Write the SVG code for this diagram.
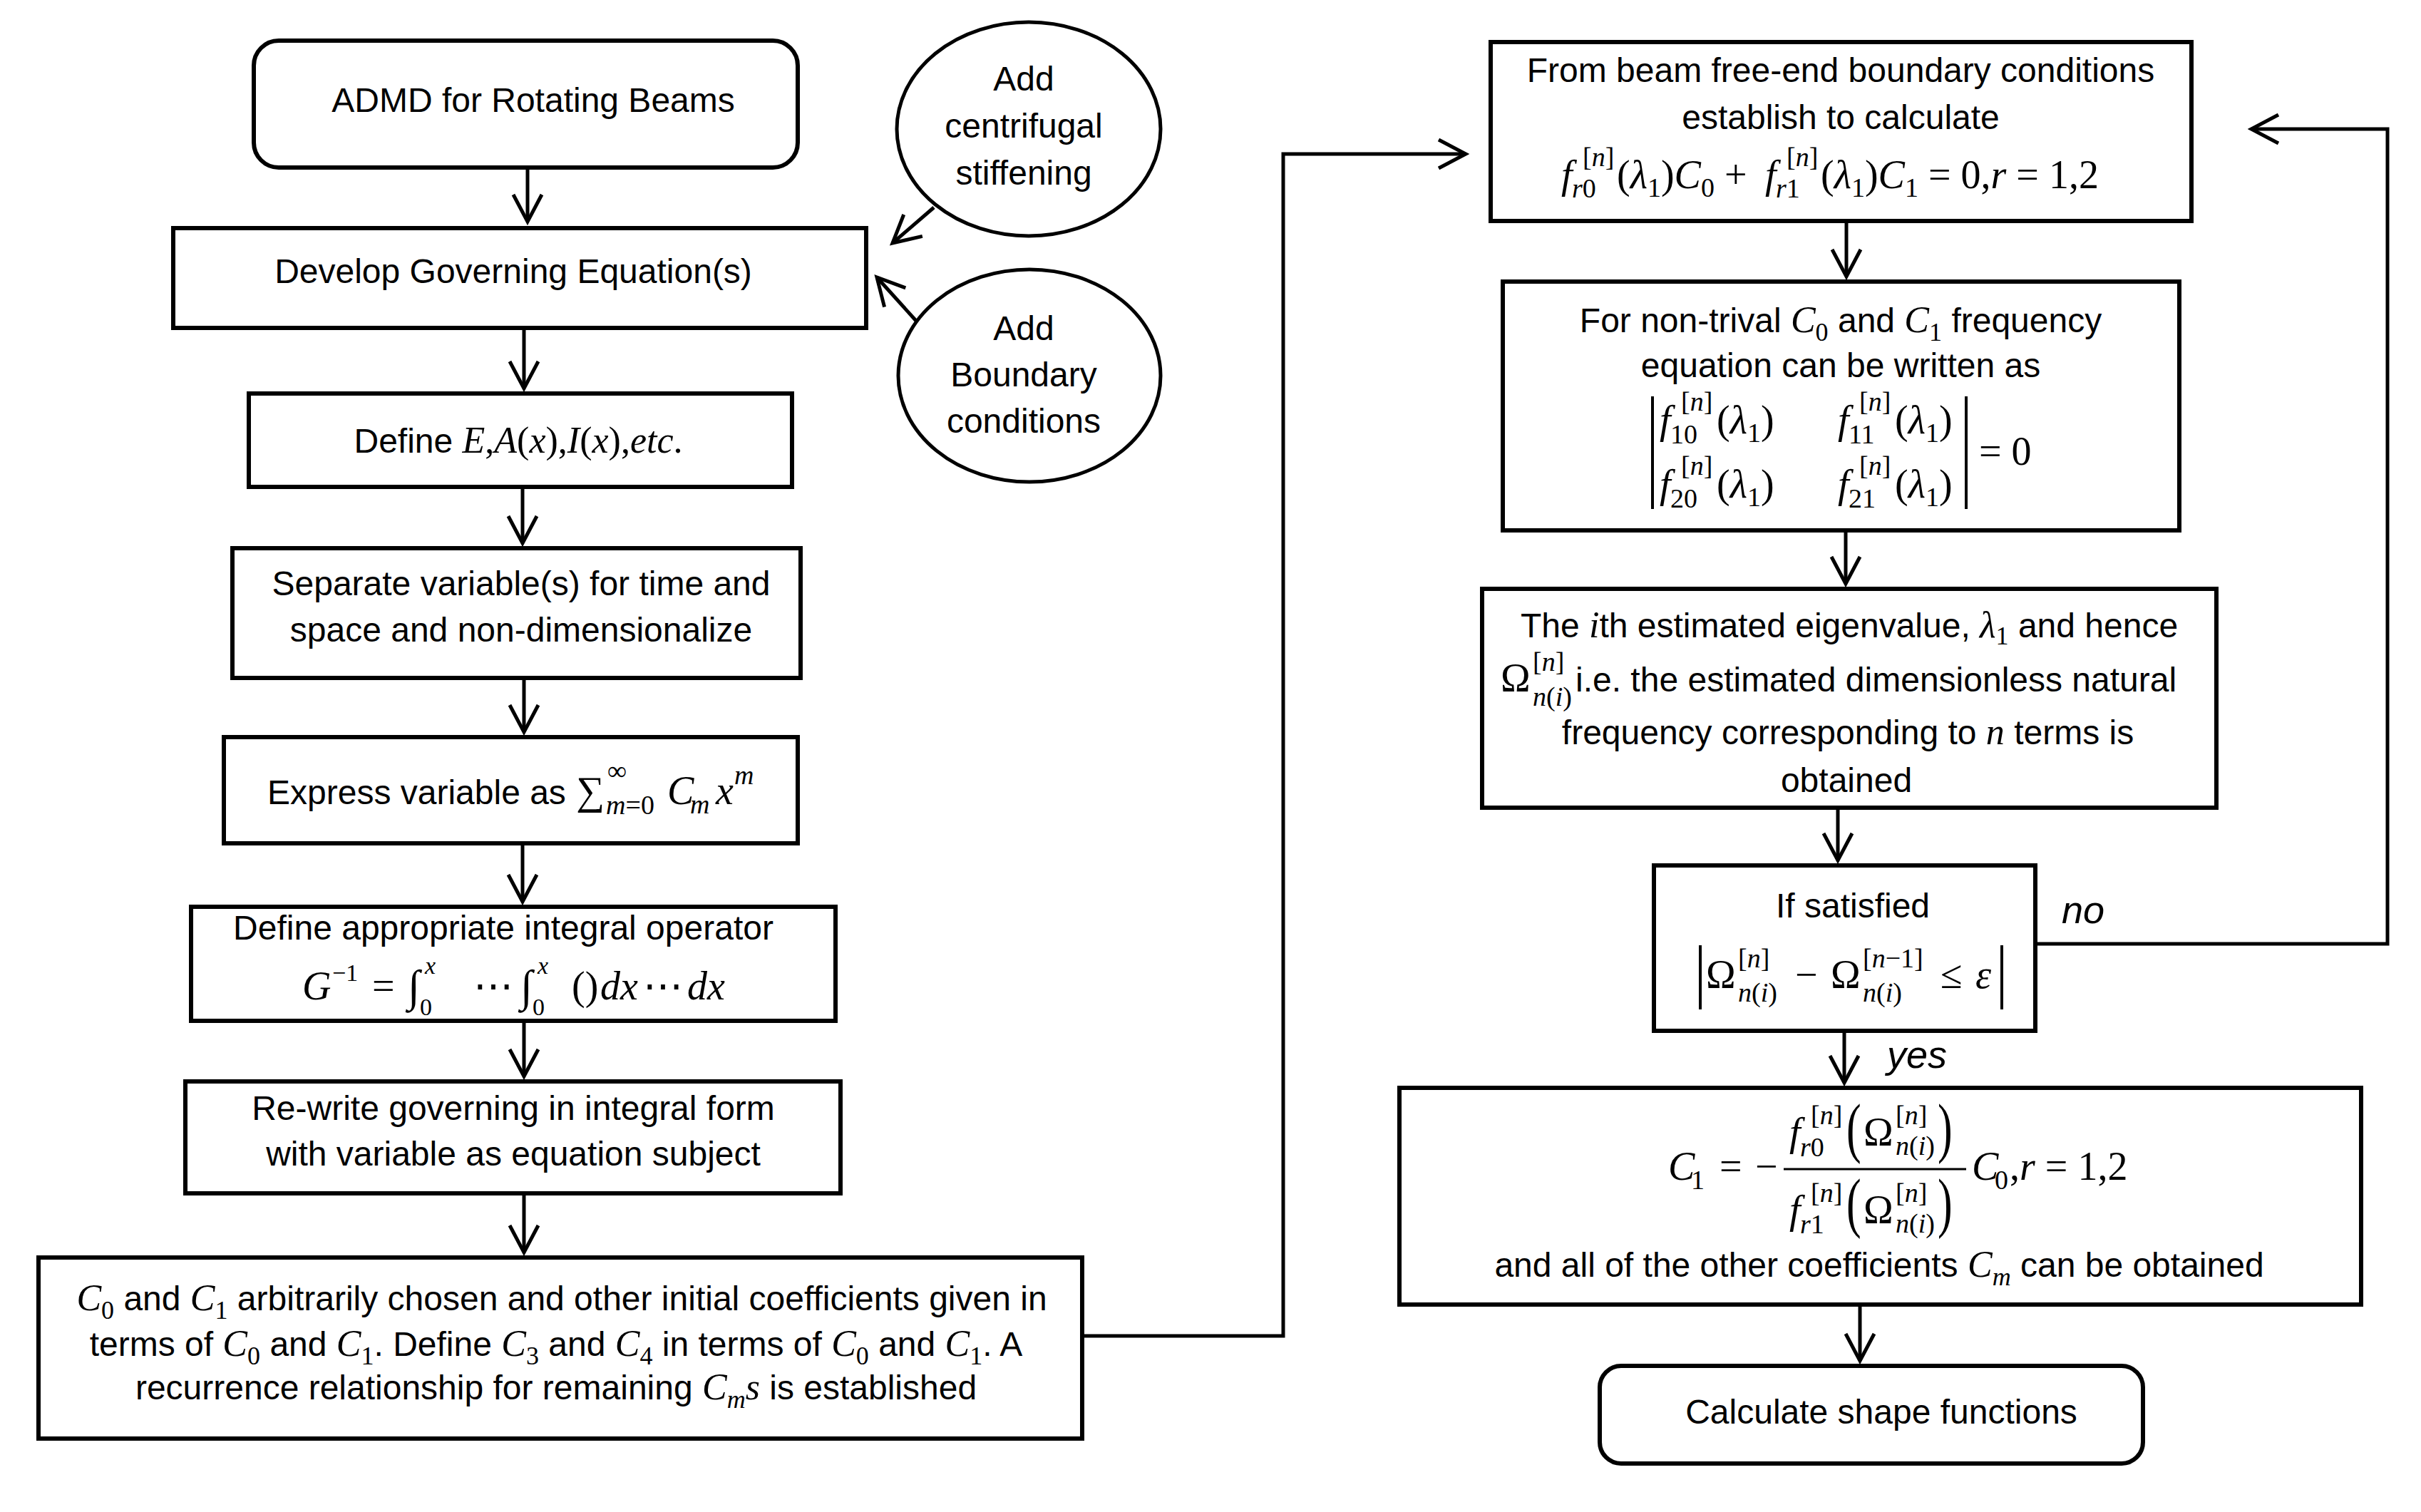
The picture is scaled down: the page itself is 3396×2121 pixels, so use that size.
<svg xmlns="http://www.w3.org/2000/svg" width="3396" height="2121" viewBox="0 0 3396 2121">
<style>
.box{fill:#fff;stroke:#000;stroke-width:6}
.ell{fill:#fff;stroke:#000;stroke-width:5}
.conn{fill:none;stroke:#000;stroke-width:5}
.bar{stroke:#000;stroke-width:4}
.t{font-family:"Liberation Sans",Arial,sans-serif;font-size:48px;fill:#000}
.m{font-family:"Liberation Serif","DejaVu Serif",serif;font-style:italic;font-size:52px;fill:#000}
.u{font-family:"Liberation Serif","DejaVu Serif",serif;font-style:normal;font-size:52px;fill:#000}
.sb{font-size:36px}
.F .m,.F .u{font-size:56px}
.F .sb{font-size:38px}
.F .ss{font-size:34px}
.c{text-anchor:middle}
.lbl{font-family:"Liberation Sans",Arial,sans-serif;font-style:italic;font-size:54px;fill:#000}
</style>
<defs>
<marker id="ah" markerUnits="userSpaceOnUse" viewBox="-46 -26 52 52" refX="0" refY="0" markerWidth="52" markerHeight="52" orient="auto" overflow="visible">
<path d="M-38,-20 L0,0 L-38,20" fill="none" stroke="#000" stroke-width="5"/>
</marker>
</defs>
<rect width="3396" height="2121" fill="#fff"/>

<g id="connectors" class="conn" marker-end="url(#ah)">
<path d="M740,235 V311"/>
<path d="M735,460 V545"/>
<path d="M733,683 V762"/>
<path d="M735,951 V1027"/>
<path d="M733,1183 V1265"/>
<path d="M735,1432 V1510"/>
<path d="M735,1674 V1757"/>
<path d="M1310,291 L1252,341"/>
<path d="M1285,450 L1230,389"/>
<path d="M1518,1874 H1800 V216 H2056"/>
<path d="M2590,310 V388"/>
<path d="M2589,744 V819"/>
<path d="M2578,1133 V1207"/>
<path d="M2587,1446 V1519"/>
<path d="M2609,1830 V1909"/>
<path d="M2855,1324 H3349 V181 H3158"/>
</g>

<g id="n-admd">
<rect class="box" x="356" y="57" width="763" height="178" rx="35"/>
<text class="t c" x="748" y="157">ADMD for Rotating Beams</text>
</g>

<g id="n-centrifugal">
<ellipse class="ell" cx="1443" cy="181" rx="185" ry="150"/>
<text class="t c" x="1436" y="127">Add</text>
<text class="t c" x="1436" y="193">centrifugal</text>
<text class="t c" x="1436" y="259">stiffening</text>
</g>

<g id="n-boundary">
<ellipse class="ell" cx="1444" cy="527" rx="184" ry="149"/>
<text class="t c" x="1436" y="477">Add</text>
<text class="t c" x="1436" y="542">Boundary</text>
<text class="t c" x="1436" y="607">conditions</text>
</g>

<g id="n-develop">
<rect class="box" x="243" y="320" width="972" height="140"/>
<text class="t c" x="720" y="397">Develop Governing Equation(s)</text>
</g>

<g id="n-define">
<rect class="box" x="349" y="552" width="762" height="131"/>
<text class="t c" x="727" y="635">Define <tspan class="m">E</tspan><tspan class="u">,</tspan><tspan class="m">A</tspan><tspan class="u">(</tspan><tspan class="m">x</tspan><tspan class="u">),</tspan><tspan class="m">I</tspan><tspan class="u">(</tspan><tspan class="m">x</tspan><tspan class="u">),</tspan><tspan class="m">etc</tspan><tspan class="u">.</tspan></text>
</g>

<g id="n-separate">
<rect class="box" x="326" y="769" width="797" height="182"/>
<text class="t c" x="731" y="835">Separate variable(s) for time and</text>
<text class="t c" x="731" y="900">space and non-dimensionalize</text>
</g>

<g id="n-express">
<rect class="box" x="314" y="1034" width="805" height="149"/>
<text class="t" x="375" y="1128">Express variable as</text>
<g class="F">
<text class="u" x="808" y="1128">∑</text>
<text class="m sb" x="850" y="1142">m<tspan class="u sb">=0</tspan></text>
<text class="u sb" x="852" y="1094">∞</text>
<text class="m" x="936" y="1128">C</text>
<text class="m sb" x="968" y="1141">m</text>
<text class="m" x="1004" y="1128">x</text>
<text class="m sb" x="1030" y="1100">m</text>
</g>
</g>

<g id="n-operator">
<rect class="box" x="268" y="1272" width="904" height="160"/>
<text class="t c" x="706" y="1318">Define appropriate integral operator</text>
<g class="F">
<text class="m" x="424" y="1402">G</text>
<text class="u ss" x="466" y="1376">−1</text>
<text class="u" x="522" y="1402">=</text>
<text class="u" x="572" y="1404" style="font-size:62px">∫<tspan class="u ss" dy="20">0</tspan><tspan class="m ss" dx="-10" dy="-58">x</tspan></text>
<text class="u" x="664" y="1402">⋯</text>
<text class="u" x="730" y="1404" style="font-size:62px">∫<tspan class="u ss" dy="20">0</tspan><tspan class="m ss" dx="-10" dy="-58">x</tspan></text>
<text class="u" x="802" y="1402">()</text>
<text class="m" x="842" y="1402">dx</text>
<text class="u" x="902" y="1402">⋯</text>
<text class="m" x="964" y="1402">dx</text>
</g>
</g>

<g id="n-rewrite">
<rect class="box" x="260" y="1517" width="919" height="157"/>
<text class="t c" x="720" y="1571">Re-write governing in integral form</text>
<text class="t c" x="720" y="1635">with variable as equation subject</text>
</g>

<g id="n-coeffs">
<rect class="box" x="54" y="1764" width="1464" height="254"/>
<text class="t c" x="788" y="1838"><tspan class="m">C</tspan><tspan class="u sb" dy="12">0</tspan><tspan dy="-12"> and </tspan><tspan class="m">C</tspan><tspan class="u sb" dy="12">1</tspan><tspan dy="-12"> arbitrarily chosen and other initial  coefficients given in</tspan></text>
<text class="t c" x="780" y="1902">terms of <tspan class="m">C</tspan><tspan class="u sb" dy="12">0</tspan><tspan dy="-12"> and </tspan><tspan class="m">C</tspan><tspan class="u sb" dy="12">1</tspan><tspan dy="-12">. Define </tspan><tspan class="m">C</tspan><tspan class="u sb" dy="12">3</tspan><tspan dy="-12"> and </tspan><tspan class="m">C</tspan><tspan class="u sb" dy="12">4</tspan><tspan dy="-12"> in terms of </tspan><tspan class="m">C</tspan><tspan class="u sb" dy="12">0</tspan><tspan dy="-12">  and </tspan><tspan class="m">C</tspan><tspan class="u sb" dy="12">1</tspan><tspan dy="-12">. A</tspan></text>
<text class="t c" x="780" y="1963">recurrence relationship for remaining <tspan class="m">C</tspan><tspan class="m sb" dy="12">m</tspan><tspan class="m" dy="-12">s</tspan> is established</text>
</g>

<g id="n-freeend">
<rect class="box" x="2091" y="59" width="983" height="251"/>
<text class="t c" x="2582" y="115">From beam free-end boundary conditions</text>
<text class="t c" x="2582" y="181">establish to calculate</text>
<g class="F">
<text class="m" x="2190" y="264">f</text>
<text class="m sb" x="2220" y="233"><tspan class="u sb">[</tspan>n<tspan class="u sb">]</tspan></text>
<text class="m sb" x="2205" y="277">r<tspan class="u sb">0</tspan></text>
<text class="u" x="2268" y="264">(<tspan class="m">λ</tspan><tspan class="sb" dy="12">1</tspan><tspan dy="-12">)</tspan><tspan class="m">C</tspan><tspan class="sb" dy="12">0</tspan><tspan dy="-12"> + </tspan></text>
<text class="m" x="2476" y="264">f</text>
<text class="m sb" x="2506" y="233"><tspan class="u sb">[</tspan>n<tspan class="u sb">]</tspan></text>
<text class="m sb" x="2491" y="277">r<tspan class="u sb">1</tspan></text>
<text class="u" x="2554" y="264">(<tspan class="m">λ</tspan><tspan class="sb" dy="12">1</tspan><tspan dy="-12">)</tspan><tspan class="m">C</tspan><tspan class="sb" dy="12">1</tspan><tspan dy="-12"> = 0,</tspan><tspan class="m">r</tspan> = 1,2</text>
</g>
</g>

<g id="n-frequency">
<rect class="box" x="2108" y="395" width="949" height="349"/>
<text class="t c" x="2582" y="466">For non-trival <tspan class="m">C</tspan><tspan class="u sb" dy="12">0</tspan><tspan dy="-12"> and </tspan><tspan class="m">C</tspan><tspan class="u sb" dy="12">1</tspan><tspan dy="-12"> frequency</tspan></text>
<text class="t c" x="2582" y="529">equation can be written as</text>
<line class="bar" x1="2318" y1="556" x2="2318" y2="714"/>
<line class="bar" x1="2758" y1="556" x2="2758" y2="714"/>
<g class="F">
<text class="m" x="2328" y="608">f</text>
<text class="m sb" x="2358" y="576"><tspan class="u sb">[</tspan>n<tspan class="u sb">]</tspan></text>
<text class="u sb" x="2343" y="622">10</text>
<text class="u" x="2408" y="608">(<tspan class="m">λ</tspan><tspan class="sb" dy="12">1</tspan><tspan dy="-12">)</tspan></text>
<text class="m" x="2578" y="608">f</text>
<text class="m sb" x="2608" y="576"><tspan class="u sb">[</tspan>n<tspan class="u sb">]</tspan></text>
<text class="u sb" x="2593" y="622">11</text>
<text class="u" x="2658" y="608">(<tspan class="m">λ</tspan><tspan class="sb" dy="12">1</tspan><tspan dy="-12">)</tspan></text>
<text class="m" x="2328" y="698">f</text>
<text class="m sb" x="2358" y="666"><tspan class="u sb">[</tspan>n<tspan class="u sb">]</tspan></text>
<text class="u sb" x="2343" y="712">20</text>
<text class="u" x="2408" y="698">(<tspan class="m">λ</tspan><tspan class="sb" dy="12">1</tspan><tspan dy="-12">)</tspan></text>
<text class="m" x="2578" y="698">f</text>
<text class="m sb" x="2608" y="666"><tspan class="u sb">[</tspan>n<tspan class="u sb">]</tspan></text>
<text class="u sb" x="2593" y="712">21</text>
<text class="u" x="2658" y="698">(<tspan class="m">λ</tspan><tspan class="sb" dy="12">1</tspan><tspan dy="-12">)</tspan></text>
<text class="u" x="2776" y="652">= 0</text>
</g>
</g>

<g id="n-eigen">
<rect class="box" x="2079" y="826" width="1030" height="307"/>
<text class="t c" x="2594" y="894">The <tspan class="m">i</tspan>th estimated eigenvalue, <tspan class="m">λ</tspan><tspan class="u sb" dy="10">1</tspan><tspan dy="-10"> and hence</tspan></text>
<g class="F">
<text class="u" x="2105" y="970">Ω</text>
<text class="m sb" x="2150" y="941"><tspan class="u sb">[</tspan>n<tspan class="u sb">]</tspan></text>
<text class="m sb" x="2150" y="990">n<tspan class="u sb">(</tspan>i<tspan class="u sb">)</tspan></text>
</g>
<text class="t" x="2210" y="970">i.e. the estimated dimensionless natural</text>
<text class="t c" x="2592" y="1044">frequency corresponding to <tspan class="m">n</tspan> terms is</text>
<text class="t c" x="2590" y="1111">obtained</text>
</g>

<g id="n-check">
<rect class="box" x="2320" y="1214" width="535" height="232"/>
<text class="t c" x="2599" y="1287">If satisfied</text>
<line class="bar" x1="2385" y1="1326" x2="2385" y2="1416"/>
<line class="bar" x1="2808" y1="1326" x2="2808" y2="1416"/>
<g class="F">
<text class="u" x="2393" y="1386">Ω</text>
<text class="m sb" x="2438" y="1357"><tspan class="u sb">[</tspan>n<tspan class="u sb">]</tspan></text>
<text class="m sb" x="2438" y="1405">n<tspan class="u sb">(</tspan>i<tspan class="u sb">)</tspan></text>
<text class="u" x="2518" y="1386">−</text>
<text class="u" x="2568" y="1386">Ω</text>
<text class="m sb" x="2613" y="1357"><tspan class="u sb">[</tspan>n<tspan class="u sb">−1]</tspan></text>
<text class="m sb" x="2613" y="1405">n<tspan class="u sb">(</tspan>i<tspan class="u sb">)</tspan></text>
<text class="u" x="2722" y="1386">≤</text>
<text class="m" x="2771" y="1386">ε</text>
</g>
</g>

<g id="l-no">
<text class="lbl" x="2892" y="1295">no</text>
</g>
<g id="l-yes">
<text class="lbl" x="2647" y="1498">yes</text>
</g>

<g id="n-c1">
<rect class="box" x="1963" y="1526" width="1349" height="304"/>
<g class="F">
<text class="m" x="2340" y="1655">C</text>
<text class="u sb" x="2372" y="1668">1</text>
<text class="u" x="2412" y="1655">=</text>
<text class="u" x="2462" y="1655">−</text>
<line class="bar" x1="2502" y1="1640" x2="2758" y2="1640" style="stroke-width:3"/>
<text class="m" x="2510" y="1607">f</text>
<text class="m sb" x="2540" y="1577"><tspan class="u sb">[</tspan>n<tspan class="u sb">]</tspan></text>
<text class="m sb" x="2525" y="1622">r<tspan class="u sb">0</tspan></text>
<text class="u" transform="translate(2590,1613) scale(1,1.5)" style="font-size:62px">(</text>
<text class="u" x="2614" y="1607">Ω</text>
<text class="m sb" x="2659" y="1577"><tspan class="u sb">[</tspan>n<tspan class="u sb">]</tspan></text>
<text class="m sb" x="2659" y="1620">n<tspan class="u sb">(</tspan>i<tspan class="u sb">)</tspan></text>
<text class="u" transform="translate(2718,1613) scale(1,1.5)" style="font-size:62px">)</text>
<text class="m" x="2510" y="1716">f</text>
<text class="m sb" x="2540" y="1686"><tspan class="u sb">[</tspan>n<tspan class="u sb">]</tspan></text>
<text class="m sb" x="2525" y="1730">r<tspan class="u sb">1</tspan></text>
<text class="u" transform="translate(2590,1718) scale(1,1.5)" style="font-size:62px">(</text>
<text class="u" x="2614" y="1716">Ω</text>
<text class="m sb" x="2659" y="1686"><tspan class="u sb">[</tspan>n<tspan class="u sb">]</tspan></text>
<text class="m sb" x="2659" y="1729">n<tspan class="u sb">(</tspan>i<tspan class="u sb">)</tspan></text>
<text class="u" transform="translate(2718,1718) scale(1,1.5)" style="font-size:62px">)</text>
<text class="m" x="2766" y="1655">C</text>
<text class="u sb" x="2798" y="1668">0</text>
<text class="u" x="2819" y="1655">,<tspan class="m">r</tspan> = 1,2</text>
</g>
<text class="t c" x="2636" y="1791">and all of the other coefficients <tspan class="m">C</tspan><tspan class="m sb" dy="12">m</tspan><tspan dy="-12"> can be obtained</tspan></text>
</g>

<g id="n-shape">
<rect class="box" x="2244" y="1916" width="762" height="137" rx="30"/>
<text class="t c" x="2639" y="1997">Calculate shape functions</text>
</g>
</svg>
